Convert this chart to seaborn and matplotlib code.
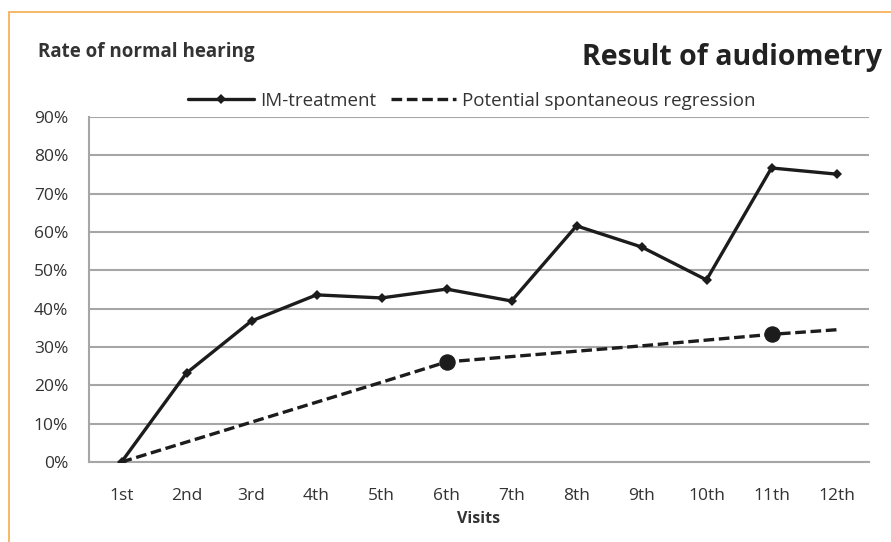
import numpy as np
import pandas as pd
import matplotlib
matplotlib.use("Agg")
import matplotlib.pyplot as plt
from matplotlib.lines import Line2D
from matplotlib.ticker import FuncFormatter, FixedLocator
import seaborn as sns

# data
visits = ["1st", "2nd", "3rd", "4th", "5th", "6th", "7th", "8th", "9th", "10th", "11th", "12th"]
im_treatment = [0.0, 0.232, 0.368, 0.436, 0.428, 0.451, 0.420, 0.616, 0.561, 0.475, 0.767, 0.751]
spontaneous = [0.0, 0.052, 0.104, 0.156, 0.208, 0.261, 0.275, 0.289, 0.303, 0.318, 0.333, 0.345]
spont_marked = ["6th", "11th"]

sns.set_style("white")
plt.rcParams["font.family"] = ["Open Sans", "DejaVu Sans"]

df = pd.DataFrame({"visit": visits, "pos": np.arange(len(visits)),
                   "IM-treatment": im_treatment,
                   "Potential spontaneous regression": spontaneous})

fig = plt.figure(figsize=(8.91, 5.42), dpi=100)
ax = fig.add_axes([89 / 891, 1 - 462 / 542, 780 / 891, 345 / 542])

grid_c = "#a6a6a6"
line_c = "#1c1c1c"
text_c = "#333333"

sns.lineplot(data=df, x="pos", y="IM-treatment", ax=ax, color=line_c, lw=2.4,
             marker="D", markersize=5, markeredgewidth=0, zorder=4)
sns.lineplot(data=df, x="pos", y="Potential spontaneous regression", ax=ax,
             color=line_c, lw=2.4, linestyle=(0, (3.2, 1.4)), zorder=3)
mk = df[df["visit"].isin(spont_marked)]
sns.scatterplot(data=mk, x="pos", y="Potential spontaneous regression", ax=ax,
                color=line_c, s=120, marker="o", edgecolor=line_c, zorder=5)

ax.set_xlim(-0.5, len(visits) - 0.5)
ax.set_ylim(0, 0.9)
ax.yaxis.set_major_locator(FixedLocator(np.arange(0, 0.91, 0.1)))
ax.yaxis.set_major_formatter(FuncFormatter(lambda v, p: f"{v * 100:.0f}%"))
ax.set_xticks(df["pos"])
ax.set_xticklabels(visits)
ax.set_xticks(np.arange(-0.5, len(visits), 1.0), minor=True)
ax.tick_params(axis="x", which="major", length=0, labelsize=12.5, pad=19, colors=text_c)
ax.tick_params(axis="x", which="minor", length=5, width=1.2, color=grid_c, direction="out")
ax.tick_params(axis="y", length=5, width=1.2, color=grid_c, direction="out",
               labelsize=12.5, pad=10, labelcolor=text_c)
ax.grid(axis="y", color=grid_c, lw=1.5)
ax.set_axisbelow(True)
for s in ["top", "right"]:
    ax.spines[s].set_visible(False)
for s in ["left", "bottom"]:
    ax.spines[s].set_color(grid_c)
    ax.spines[s].set_linewidth(1.5)
ax.set_xlabel("Visits", fontsize=11.5, fontweight="bold", color=text_c, labelpad=5)
ax.set_ylabel("")

handles = [Line2D([], [], color=line_c, lw=2.4, marker="D", markersize=5, markeredgewidth=0),
           Line2D([], [], color=line_c, lw=2.4, linestyle=(0, (3.2, 1.4)))]
fig.legend(handles, ["IM-treatment", "Potential spontaneous regression"],
           loc="center", bbox_to_anchor=(472 / 891, 1 - 101 / 542), ncol=2,
           frameon=False, fontsize=13.5, handlelength=3.5, columnspacing=0.8,
           handletextpad=0.3, labelcolor=text_c)

fig.text(38 / 891, 1 - 52 / 542, "Rate of normal hearing", fontsize=13.5,
         fontweight="bold", color=text_c, va="center", ha="left")
fig.text(882 / 891, 1 - 58 / 542, "Result of audiometry", fontsize=20.5,
         fontweight="bold", color="#222222", va="center", ha="right")

# orange frame on top and left
orange = "#f7b35c"
fig.add_artist(Line2D([9 / 891, 1.0], [1 - 12 / 542, 1 - 12 / 542], color=orange, lw=1.3))
fig.add_artist(Line2D([9 / 891, 9 / 891], [1 - 12 / 542, 0.0], color=orange, lw=1.3))

fig.savefig("out.png", dpi=100)
